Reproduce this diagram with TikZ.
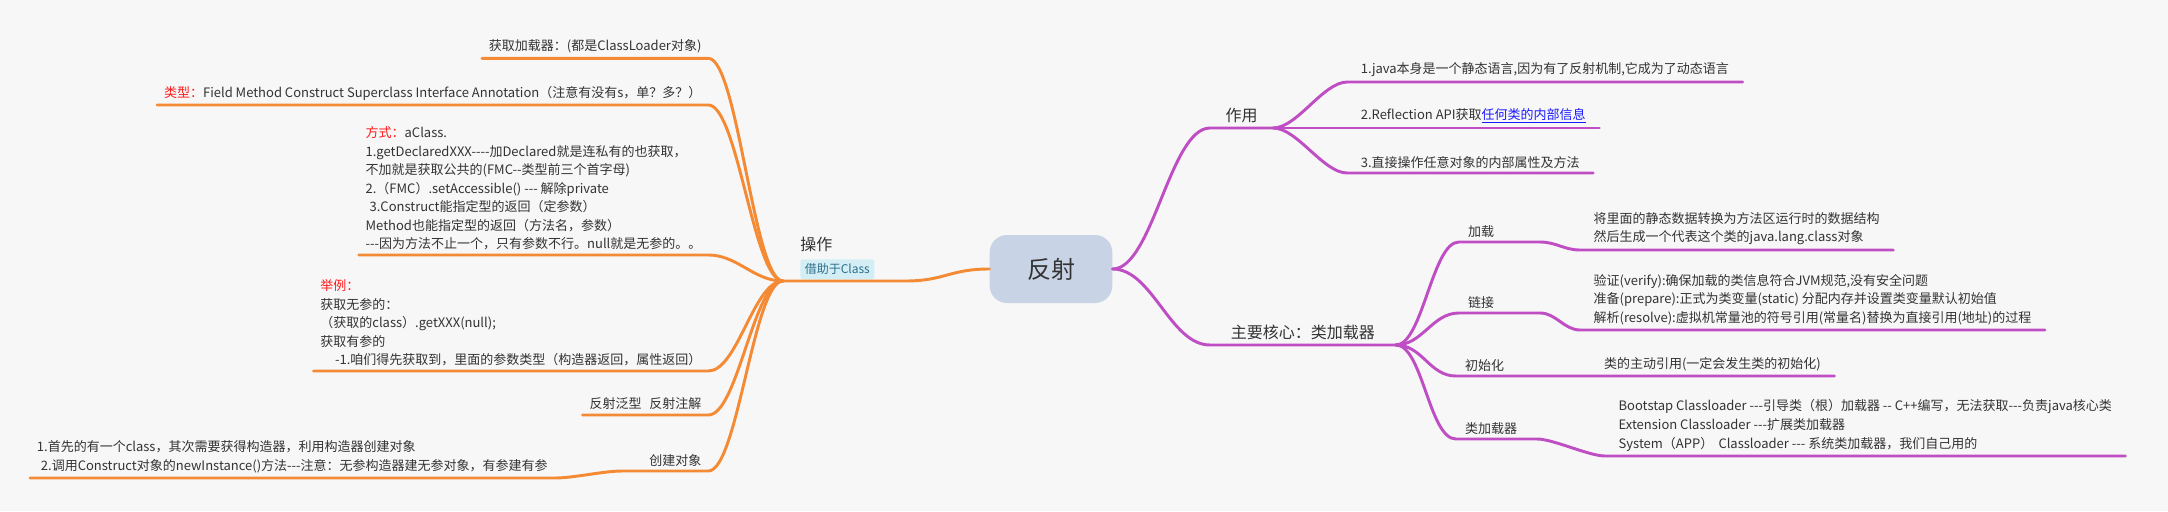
\documentclass[tikz,border=0pt]{standalone}
\usepackage{fontspec}
\setmainfont{Noto Sans CJK SC}[Ligatures=TeXOff]
\usetikzlibrary{positioning}
\definecolor{bgc}{HTML}{F7F7F7}
\definecolor{orng}{HTML}{F58A34}
\definecolor{purp}{HTML}{BF4EC4}
\definecolor{rootfill}{HTML}{C8D3E5}
\definecolor{tagfill}{HTML}{D4EEF6}
\definecolor{tagtext}{HTML}{2E6F8C}
\definecolor{txt}{HTML}{333333}
\definecolor{hot}{HTML}{FF1A1A}
\definecolor{lnkblue}{HTML}{1A1AFF}

\begin{document}
\begin{tikzpicture}
  [x=0.75pt, y=-0.75pt,
  oline/.style={draw=orng, line width=2.2pt, line cap=round},
  pline/.style={draw=purp, line width=2.2pt, line cap=round},
  twist/.style={out=0, in=180, out distance=#1, in distance=#1},
  twist/.default=22pt,
  root/.style={rectangle, rounded corners=13pt, fill=rootfill, text=txt, minimum width=92pt, minimum height=51pt, font=\fontsize{18pt}{22pt}\selectfont},
  branch/.style={text=txt, inner xsep=0pt, inner ysep=4pt, font=\fontsize{12pt}{15pt}\selectfont},
  sub/.style={text=txt, align=left, text width=47pt, inner xsep=6.75pt, inner ysep=3.5pt, font=\fontsize{9.75pt}{13.9pt}\selectfont},
  leaf/.style={text=txt, align=left, inner xsep=10pt, inner ysep=3.5pt, font=\fontsize{9.75pt}{13.9pt}\selectfont},
  lleaf/.style={leaf, inner xsep=5pt},
  tag/.style={rectangle, rounded corners=2pt, fill=tagfill, text=tagtext, inner xsep=3.4pt, minimum height=15pt, font=\fontsize{9pt}{11pt}\selectfont}]
  \fill [bgc] (0,0) rectangle (2168,511);
  \useasboundingbox (0,0) rectangle (2168,511);

  % nodes
  \node [root] (root) at (1051,269) {反射};

  \coordinate (opHub) at (783,281);
  \coordinate (opKnee) at (905,281);
  \node [branch, anchor=west] (op) at (800,244) {操作};
  \node [tag, anchor=north west] (opTag) at (800,259) {借助于Class};
  \node [lleaf, above left=167pt and 56pt of opHub] (loader) {获取加载器：(都是ClassLoader对象)};
  \node [lleaf, above left=132pt and 56pt of opHub] (types) {\textcolor{hot}{类型：}Field Method Construct Superclass Interface Annotation（注意有没有s，单？多？）};
  \node [lleaf, above left=19.5pt and 56pt of opHub] (ways) {\textcolor{hot}{方式：}aClass.\\1.getDeclaredXXX----加Declared就是连私有的也获取，\\不加就是获取公共的(FMC--类型前三个首字母)\\2.（FMC）.setAccessible() --- 解除private\\\hspace*{3pt}3.Construct能指定型的返回（定参数）\\Method也能指定型的返回（方法名，参数）\\---因为方法不止一个，只有参数不行。null就是无参的。。};
  \node [lleaf, below left=67.5pt and 56pt of opHub, anchor=south east] (demo) {\textcolor{hot}{举例：}\\获取无参的：\\（获取的class）.getXXX(null);\\获取有参的\\\hspace*{11pt}-1.咱们得先获取到，里面的参数类型（构造器返回，属性返回）};
  \node [lleaf, below left=100.5pt and 56pt of opHub, anchor=south east] (generic) {反射泛型\hspace{0.6em}反射注解};
  \node [lleaf, below left=142.5pt and 56pt of opHub, anchor=south east, text width=54pt, align=right] (create) {创建对象};
  \node [lleaf, anchor=south west] (createTxt) at (30,478) {1.首先的有一个class，其次需要获得构造器，利用构造器创建对象\\\hspace*{3pt}2.调用Construct对象的newInstance()方法---注意：无参构造器建无参对象，有参建有参};

  \node [branch, minimum width=47pt, anchor=south west] (use) at (1210,128) {作用};
  \node [leaf, above right=34.5pt and 55.5pt of use.south east, anchor=south west] (useA) {1.java本身是一个静态语言,因为有了反射机制,它成为了动态语言};
  \node [leaf, right=55.5pt of use.south east, anchor=south west] (useB) {2.Reflection API获取\textcolor{lnkblue}{\underline{任何类的内部信息}}};
  \node [leaf, below right=33.75pt and 55.5pt of use.south east, anchor=south west] (useC) {3.直接操作任意对象的内部属性及方法};

  \node [branch, minimum width=139pt, anchor=south west] (core) at (1210,345) {主要核心：类加载器};
  \node [sub, above right=77.25pt and 47.25pt of core.south east, anchor=south west] (load) {加载};
  \node [sub, above right=24pt and 47.25pt of core.south east, anchor=south west] (lnk) {链接};
  \node [sub, below right=23.25pt and 45pt of core.south east, anchor=south west] (init) {初始化};
  \node [sub, below right=70.5pt and 45pt of core.south east, anchor=south west] (cl) {类加载器};
  \node [leaf, below right=6pt and 30pt of load.south east, anchor=south west] (loadTxt) {将里面的静态数据转换为方法区运行时的数据结构\\然后生成一个代表这个类的java.lang.class对象};
  \node [leaf, below right=12.75pt and 30pt of lnk.south east, anchor=south west] (lnkTxt) {验证(verify):确保加载的类信息符合JVM规范,没有安全问题\\准备(prepare):正式为类变量(static) 分配内存并设置类变量默认初始值\\解析(resolve):虚拟机常量池的符号引用(常量名)替换为直接引用(地址)的过程};
  \node [leaf, right=40pt of init.south east, anchor=south west] (initTxt) {类的主动引用(一定会发生类的初始化)};
  \node [leaf, below right=12.75pt and 51pt of cl.south east, anchor=south west] (clTxt) {Bootstap Classloader ---引导类（根）加载器 -- C++编写，无法获取---负责java核心类\\Extension Classloader ---扩展类加载器\\System（APP）\hspace{0.4em}Classloader --- 系统类加载器，我们自己用的};

  % edges
  \path [oline] (opHub) -- (opKnee) to [twist=30pt] (root.west);
  \path [oline] (loader.south west) -- (loader.south east) to [twist] (opHub);
  \path [oline] (types.south west) -- (types.south east) to [twist] (opHub);
  \path [oline] (ways.south west) -- (ways.south east) to [twist] (opHub);
  \path [oline] (demo.south west) -- (demo.south east) to [twist] (opHub);
  \path [oline] (generic.south west) -- (generic.south east) to [twist] (opHub);
  \path [oline] (createTxt.south west) -- (createTxt.south east) to [twist=15pt] (create.south west) -- (create.south east) to [twist] (opHub);

  \path [pline] (root.east) to [twist=30pt] (use.south west) -- (use.south east);
  \path [pline] (use.south east) to [twist=18pt] (useA.south west) -- (useA.south east);
  \path [pline] (use.south east) -- (useB.south west) -- (useB.south east);
  \path [pline] (use.south east) to [twist=18pt] (useC.south west) -- (useC.south east);
  \path [pline] (root.east) to [twist=30pt] (core.south west) -- (core.south east);
  \path [pline] (core.south east) to [twist=20pt] (load.south west) -- (load.south east) to [twist=12pt] (loadTxt.south west) -- (loadTxt.south east);
  \path [pline] (core.south east) to [twist=20pt] (lnk.south west) -- (lnk.south east) to [twist=12pt] (lnkTxt.south west) -- (lnkTxt.south east);
  \path [pline] (core.south east) to [twist=20pt] (init.south west) -- (init.south east) -- (initTxt.south west) -- (initTxt.south east);
  \path [pline] (core.south east) to [twist=20pt] (cl.south west) -- (cl.south east) to [twist=12pt] (clTxt.south west) -- (clTxt.south east);
\end{tikzpicture}
\end{document}
